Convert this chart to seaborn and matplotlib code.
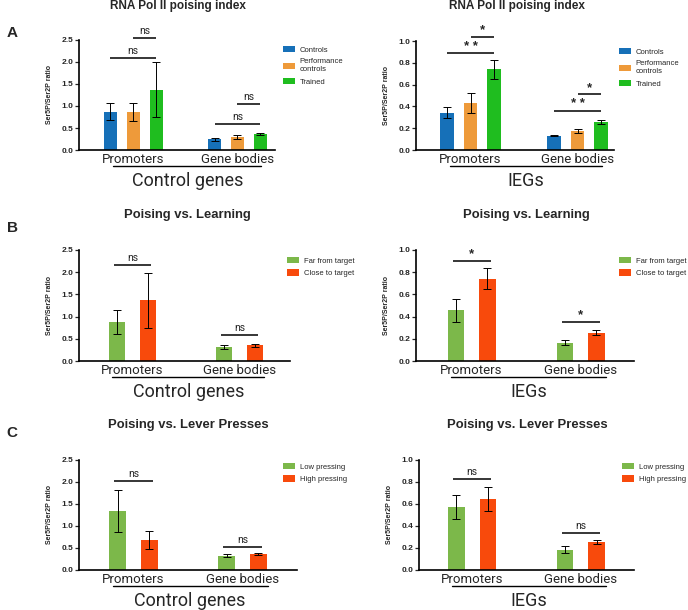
import matplotlib
matplotlib.use('Agg')
import matplotlib.pyplot as plt
import matplotlib.transforms as mtransforms
from matplotlib import font_manager
import seaborn as sns
import pandas as pd

# ---- data ----
regions = ['Promoters', 'Gene bodies']

# A: trained vs controls
a_groups = ['Controls', 'Performance\ncontrols', 'Trained']
a_colors = ['#1670b8', '#ee9a3a', '#1fbd1f']
a_ctrl_mean = [[0.87, 0.87, 1.37], [0.24, 0.29, 0.355]]
a_ctrl_err = [[0.19, 0.20, 0.63], [0.04, 0.04, 0.025]]
a_ctrl_sig = [(0, 0, 2, 2.08, 'ns'), (0, 1, 2, 2.54, 'ns'), (1, 0, 2, 0.59, 'ns'), (1, 1, 2, 1.04, 'ns')]
a_ieg_mean = [[0.34, 0.43, 0.74], [0.133, 0.172, 0.255]]
a_ieg_err = [[0.05, 0.09, 0.09], [0.008, 0.017, 0.02]]
a_ieg_sig = [(0, 0, 2, 0.887, '**'), (0, 1, 2, 1.04, '*'), (1, 0, 2, 0.36, '**'), (1, 1, 2, 0.51, '*')]

# B: learning
b_groups = ['Far from target', 'Close to target']
c_groups = ['Low pressing', 'High pressing']
bc_colors = ['#7cb84a', '#f84a0c']
b_ctrl_mean = [[0.88, 1.37], [0.31, 0.35]]
b_ctrl_err = [[0.27, 0.62], [0.05, 0.03]]
b_ctrl_sig = [(0, 0, 1, 2.16, 'ns'), (1, 0, 1, 0.58, 'ns')]
b_ieg_mean = [[0.455, 0.74], [0.165, 0.255]]
b_ieg_err = [[0.105, 0.095], [0.025, 0.02]]
b_ieg_sig = [(0, 0, 1, 0.90, '*'), (1, 0, 1, 0.35, '*')]

# C: lever presses
c_ctrl_mean = [[1.34, 0.68], [0.32, 0.355]]
c_ctrl_err = [[0.48, 0.205], [0.035, 0.025]]
c_ctrl_sig = [(0, 0, 1, 2.02, 'ns'), (1, 0, 1, 0.53, 'ns')]
c_ieg_mean = [[0.575, 0.645], [0.185, 0.255]]
c_ieg_err = [[0.11, 0.11], [0.03, 0.018]]
c_ieg_sig = [(0, 0, 1, 0.83, 'ns'), (1, 0, 1, 0.34, 'ns')]

# ---- fonts ----
def have(name):
    try:
        font_manager.findfont(name, fallback_to_default=False)
        return True
    except Exception:
        return False

sns.set_style('white')
plt.rcParams['font.family'] = ['Liberation Sans', 'DejaVu Sans']
NARROW = 'Liberation Sans Narrow' if have('Liberation Sans Narrow') else 'Roboto'

W, H = 688, 610
fig = plt.figure(figsize=(W / 100, H / 100), dpi=100)


def rect(x0, y0, x1, y1):
    return [x0 / W, 1 - y1 / H, (x1 - x0) / W, (y1 - y0) / H]


def panel(box, xlim, groups, colors, means, errs, ymax, ystep, sigs, gene_label,
          legend_xy, width, gap, pad=0.03):
    ax = fig.add_axes(rect(*box))
    rows = []
    for r, region in enumerate(regions):
        for g, grp in enumerate(groups):
            rows.append({'region': region, 'group': grp, 'value': means[r][g], 'err': errs[r][g]})
    df = pd.DataFrame(rows)
    sns.barplot(data=df, x='region', y='value', hue='group', order=regions, hue_order=groups,
                palette=colors, saturation=1, width=width, gap=gap, errorbar=None, linewidth=0, ax=ax)
    bars = list(ax.containers)
    centers = [[b.get_x() + b.get_width() / 2 for b in cont] for cont in bars]

    # error bars
    for g in range(len(groups)):
        sub = df[df['group'] == groups[g]]
        ax.errorbar(centers[g], sub['value'], yerr=sub['err'], fmt='none', ecolor='black',
                    elinewidth=0.7, capsize=2.8, capthick=0.7, zorder=3)

    # significance
    for r, i, j, y, lab in sigs:
        x0 = centers[i][r] - pad
        x1 = centers[j][r] + pad
        ax.plot([x0, x1], [y, y], color='black', lw=1.1, clip_on=False, solid_capstyle='butt')
        star = lab != 'ns'
        txt = ' '.join(lab) if star else lab
        ax.annotate(txt, ((x0 + x1) / 2, y), xytext=(0, 0.5 if star else 1.5),
                    textcoords='offset points', ha='center', va='bottom',
                    fontsize=9.5 if star else 7.5, fontweight='bold' if star else 'normal',
                    family=[NARROW] if not star else None, annotation_clip=False)

    ax.set_xlim(*xlim)
    ax.set_ylim(0, ymax)
    ticks = [round(k * ystep, 2) for k in range(int(round(ymax / ystep)) + 1)]
    ax.set_yticks(ticks)
    ax.set_yticklabels([f'{t:.1f}' for t in ticks], fontsize=6, fontweight='bold')
    ax.tick_params(axis='y', length=3, width=0.9, pad=1, left=True, direction='out')
    ax.tick_params(axis='x', length=0, pad=2.5)
    for t in ax.get_xticklabels():
        t.set_fontsize(9.5)
        t.set_family(NARROW)
    ax.set_xlabel('')
    ax.set_ylabel('Ser5P/Ser2P ratio', fontsize=5, fontweight='bold', labelpad=6)
    for s in ['top', 'right']:
        ax.spines[s].set_visible(False)
    for s in ['left', 'bottom']:
        ax.spines[s].set_linewidth(1.2)
        ax.spines[s].set_color('black')

    # group line and gene-set label under the axis
    h = box[3] - box[1]
    tr = mtransforms.blended_transform_factory(ax.transData, ax.transAxes)
    ax.plot([-0.19, 1.23], [-16 / h, -16 / h], color='black', lw=1.0, transform=tr, clip_on=False)
    ax.text(0.52, -31 / h, gene_label, transform=tr, ha='center', va='center',
            fontsize=13, family=[NARROW])

    old = ax.get_legend()
    handles = old.legend_handles
    labels = [t.get_text() for t in old.get_texts()]
    old.remove()
    ax.legend(handles, labels, loc='upper left', bbox_to_anchor=(legend_xy[0] / W, 1 - legend_xy[1] / H),
              bbox_transform=fig.transFigure, frameon=False, fontsize=5.5, handlelength=1.6,
              handleheight=0.9, handletextpad=0.6, labelspacing=0.6, borderpad=0, borderaxespad=0)
    return ax


# A
panel((79, 40, 275, 150), (-0.52, 1.36), a_groups, a_colors, a_ctrl_mean, a_ctrl_err, 2.5, 0.5,
      a_ctrl_sig, 'Control genes', (283, 46), 0.66, 0.43, pad=0.0)
panel((416, 41, 614, 150), (-0.51, 1.34), a_groups, a_colors, a_ieg_mean, a_ieg_err, 1.0, 0.2,
      a_ieg_sig, 'IEGs', (619, 48), 0.66, 0.43, pad=0.0)
# B
panel((79, 250, 290, 361), (-0.50, 1.47), b_groups, bc_colors, b_ctrl_mean, b_ctrl_err, 2.5, 0.5,
      b_ctrl_sig, 'Control genes', (287, 257), 0.58, 0.48)
panel((416, 250, 634, 361), (-0.51, 1.49), b_groups, bc_colors, b_ieg_mean, b_ieg_err, 1.0, 0.2,
      b_ieg_sig, 'IEGs', (619, 257), 0.58, 0.48)
# C
panel((79, 460, 297, 570), (-0.50, 1.50), c_groups, bc_colors, c_ctrl_mean, c_ctrl_err, 2.5, 0.5,
      c_ctrl_sig, 'Control genes', (283, 463), 0.58, 0.48)
panel((419, 460, 634, 570), (-0.49, 1.49), c_groups, bc_colors, c_ieg_mean, c_ieg_err, 1.0, 0.2,
      c_ieg_sig, 'IEGs', (622, 463), 0.58, 0.48)

# titles and panel letters
titles = [('RNA Pol II poising index', 178, 6, 8.5), ('RNA Pol II poising index', 517, 6, 8.5),
          ('Poising vs. Learning', 187, 215, 9.4), ('Poising vs. Learning', 526, 215, 9.4),
          ('Poising vs. Lever Presses', 188, 425, 9.4), ('Poising vs. Lever Presses', 527, 425, 9.4)]
for txt, x, y, fs in titles:
    fig.text(x / W, 1 - y / H, txt, ha='center', va='center', fontsize=fs, fontweight='bold')
for letter, y in [('A', 33), ('B', 228), ('C', 433)]:
    fig.text(12 / W, 1 - y / H, letter, ha='center', va='center', fontsize=11, fontweight='bold')

fig.savefig('out.png', dpi=100)
